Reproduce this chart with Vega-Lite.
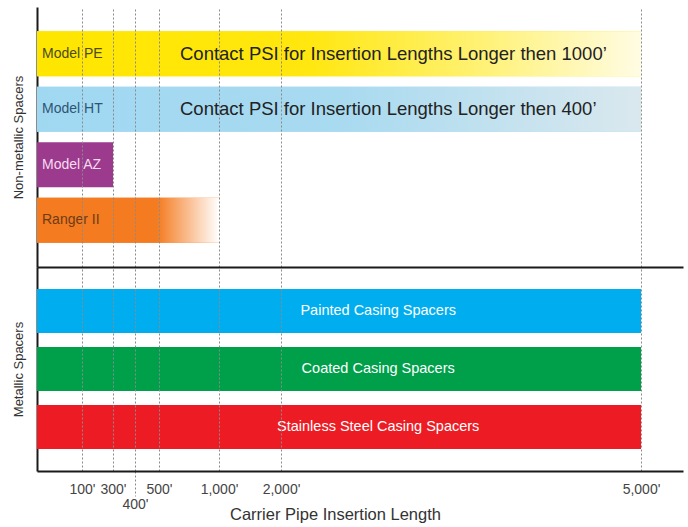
{
  "$schema": "https://vega.github.io/schema/vega-lite/v6.json",
  "padding": {"left": 12, "top": 7, "right": 5, "bottom": 0},
  "background": "white",
  "spacing": 0,
  "config": {
    "view": {"stroke": null},
    "font": "Liberation Sans",
    "axis": {"domainColor": "#1a1a1a", "domainWidth": 2, "titleFontWeight": "normal", "titleColor": "#333333", "labelColor": "#444444"}
  },
  "vconcat": [
    {
      "width": 646,
      "height": 260,
      "data": {"values": [
        {"name": "Model PE", "end": 5000, "note": "Contact PSI for Insertion Lengths Longer then 1000’", "noteAt": 675},
        {"name": "Model HT", "end": 5000, "note": "Contact PSI for Insertion Lengths Longer then 400’", "noteAt": 675},
        {"name": "Model AZ", "end": 300, "note": "", "noteAt": 675},
        {"name": "Ranger II", "end": 1000, "note": "", "noteAt": 675}
      ]},
      "encoding": {
        "y": {"field": "name", "type": "nominal", "sort": null,
          "scale": {"paddingInner": 0.19, "paddingOuter": 0.437},
          "axis": {"title": "Non-metallic Spacers", "labels": false, "ticks": false, "titleFontSize": 13, "titlePadding": 12}}
      },
      "layer": [
        {
          "mark": {"type": "bar"},
          "encoding": {
            "x": {"field": "end", "type": "quantitative",
              "scale": {"domain": [0, 100, 300, 400, 500, 1000, 2000, 5000, 5350], "range": [0, 45, 76, 98, 122, 182, 244, 604, 646], "nice": false, "zero": false},
              "axis": {"title": null, "labels": false, "ticks": false, "grid": true, "gridDash": [2, 2], "gridColor": "#8a8a8a", "gridWidth": 1, "zindex": 1, "values": [100, 300, 400, 500, 1000, 2000, 5000]}},
            "x2": {"datum": 0},
            "color": {"field": "name", "type": "nominal", "legend": null,
              "scale": {"domain": ["Model PE", "Model HT", "Model AZ", "Ranger II"], "range": ["#FFE600", "#A0D8F2", "#9C3A8E", "#F47B20"]}}
          }
        },
        {
          "transform": [{"filter": "datum.name === 'Model PE'"}],
          "mark": {"type": "bar", "fill": {"gradient": "linear", "x1": 0, "y1": 0, "x2": 1, "y2": 0,
            "stops": [{"offset": 0, "color": "#FFE600"}, {"offset": 0.45, "color": "#FFE70F"}, {"offset": 0.75, "color": "#FFF27A"}, {"offset": 1, "color": "#FFFCE4"}]}},
          "encoding": {"x": {"field": "end", "type": "quantitative"}, "x2": {"datum": 0}}
        },
        {
          "transform": [{"filter": "datum.name === 'Model HT'"}],
          "mark": {"type": "bar", "fill": {"gradient": "linear", "x1": 0, "y1": 0, "x2": 1, "y2": 0,
            "stops": [{"offset": 0, "color": "#A0D8F2"}, {"offset": 0.5, "color": "#A8DAF0"}, {"offset": 1, "color": "#DAE8EE"}]}},
          "encoding": {"x": {"field": "end", "type": "quantitative"}, "x2": {"datum": 0}}
        },
        {
          "transform": [{"filter": "datum.name === 'Ranger II'"}],
          "mark": {"type": "bar", "fill": {"gradient": "linear", "x1": 0, "y1": 0, "x2": 1, "y2": 0,
            "stops": [{"offset": 0, "color": "#F47B20"}, {"offset": 0.66, "color": "#F47B20"}, {"offset": 1, "color": "#FFFFFF"}]}},
          "encoding": {"x": {"field": "end", "type": "quantitative"}, "x2": {"datum": 0}}
        },
        {
          "mark": {"type": "text", "align": "left", "dx": 5, "fontSize": 14},
          "encoding": {
            "x": {"datum": 0, "type": "quantitative"},
            "text": {"field": "name"},
            "color": {"field": "name", "type": "nominal", "legend": null,
              "scale": {"domain": ["Model PE", "Model HT", "Model AZ", "Ranger II"], "range": ["#4d4a1e", "#2f5573", "#f5dcf0", "#6e3b17"]}}
          }
        },
        {
          "mark": {"type": "text", "align": "left", "fontSize": 18.5, "color": "#222222"},
          "encoding": {
            "x": {"field": "noteAt", "type": "quantitative"},
            "text": {"field": "note"}
          }
        }
      ],
      "resolve": {"scale": {"color": "independent"}}
    },
    {
      "width": 646,
      "height": 204,
      "data": {"values": [
        {"name": "Painted Casing Spacers", "end": 5000, "labelAt": 2810},
        {"name": "Coated Casing Spacers", "end": 5000, "labelAt": 2810},
        {"name": "Stainless Steel Casing Spacers", "end": 5000, "labelAt": 2810}
      ]},
      "encoding": {
        "y": {"field": "name", "type": "nominal", "sort": null,
          "scale": {"paddingInner": 0.241, "paddingOuter": 0.379},
          "axis": {"title": "Metallic Spacers", "labels": false, "ticks": false, "titleFontSize": 13, "titlePadding": 12}}
      },
      "layer": [
        {
          "mark": {"type": "bar"},
          "encoding": {
            "x": {"field": "end", "type": "quantitative",
              "scale": {"domain": [0, 100, 300, 400, 500, 1000, 2000, 5000, 5350], "range": [0, 45, 76, 98, 122, 182, 244, 604, 646], "nice": false, "zero": false},
              "axis": {"title": "Carrier Pipe Insertion Length", "titleFontSize": 16.5, "titleX": 298, "titleY": 48, "titleBaseline": "alphabetic",
                "grid": true, "gridDash": [2, 2], "gridColor": "#8a8a8a", "gridWidth": 1, "zindex": 1,
                "values": [100, 300, 400, 500, 1000, 2000, 5000],
                "labelExpr": "(datum.value >= 1000 ? format(datum.value, ',') : datum.value) + \"'\"",
                "labelFontSize": 14, "labelFlush": false, "labelOverlap": false,
                "labelPadding": {"condition": {"test": "datum.value === 400", "value": 1}, "value": 11},
                "ticks": true, "tickDash": [2, 2], "tickColor": "#8a8a8a",
                "tickSize": {"condition": {"test": "datum.value === 400", "value": 25}, "value": 0}}},
            "x2": {"datum": 0},
            "color": {"field": "name", "type": "nominal", "legend": null,
              "scale": {"domain": ["Painted Casing Spacers", "Coated Casing Spacers", "Stainless Steel Casing Spacers"], "range": ["#00AEEF", "#00A04B", "#ED1C24"]}}
          }
        },
        {
          "mark": {"type": "text", "align": "center", "fontSize": 14.5, "color": "#ffffff"},
          "encoding": {
            "x": {"field": "labelAt", "type": "quantitative"},
            "text": {"field": "name"}
          }
        }
      ]
    }
  ]
}
